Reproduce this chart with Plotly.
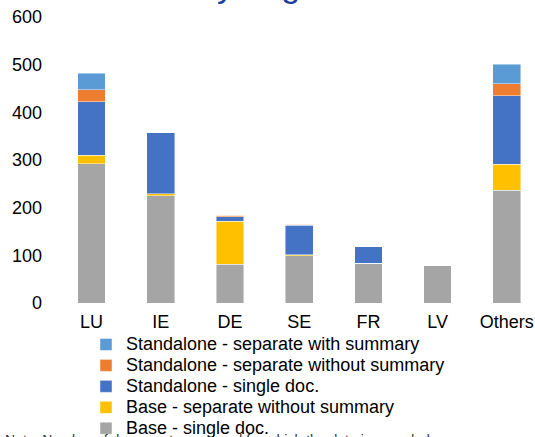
import plotly.graph_objects as go

categories = ["LU", "IE", "DE", "SE", "FR", "LV", "Others"]

base_single = [292, 225, 81, 99, 83, 78, 237]
base_sep_wo = [18, 4, 90, 2, 0, 0, 54]
sa_single = [112, 128, 10, 62, 35, 0, 144]
sa_sep_wo = [25, 0, 3, 2, 0, 0, 25]
sa_sep_with = [35, 0, 0, 0, 0, 0, 41]

series_names = [
    "Base - single doc.",
    "Base - separate without summary",
    "Standalone - single doc.",
    "Standalone - separate without summary",
    "Standalone - separate with summary",
]
series_values = [base_single, base_sep_wo, sa_single, sa_sep_wo, sa_sep_with]
series_colors = ["#A5A5A5", "#FFC000", "#4472C4", "#ED7D31", "#5B9BD5"]

y_ticks = [0, 100, 200, 300, 400, 500, 600]

fig = go.Figure()
for name, vals, col in zip(series_names, series_values, series_colors):
    fig.add_trace(go.Bar(
        x=categories, y=vals, name='<span style="font-size:18px">' + name + '</span>',
        marker=dict(color=col, line=dict(color="rgba(255,255,255,0.6)", width=0.75)),
    ))

W, H = 535, 437
top, bottom_px, left = 16.5, 303.5, 57
pw = W - left

fig.update_layout(
    width=W, height=H,
    barmode="stack", bargap=0.6,
    plot_bgcolor="white", paper_bgcolor="white",
    margin=dict(l=left, r=0, t=top, b=H - bottom_px, pad=0, autoexpand=False),
    font=dict(family="Liberation Sans, Arial, sans-serif", size=18, color="#000000"),
    showlegend=True,
    legend=dict(
        traceorder="reversed",
        font=dict(size=13.8, color="#000000"),
        xref="container", yref="container",
        x=86 / W, y=1 - 329 / H, xanchor="left", yanchor="top",
        itemwidth=30, bgcolor="rgba(0,0,0,0)",
    ),
    xaxis=dict(
        range=[-0.5, 6.407], showgrid=False, showline=False, ticks="",
        tickfont=dict(size=18), fixedrange=True, automargin=False,
        ticklabelstandoff=6,
    ),
    yaxis=dict(
        range=[0, 600], tickvals=y_ticks, showgrid=False, showline=False,
        ticks="", zeroline=False, tickfont=dict(size=18), fixedrange=True,
        ticklabelstandoff=14, automargin=False,
    ),
)

fig.add_annotation(
    text="by origin", xref="paper", yref="paper", x=(196 - left) / pw, y=1,
    xanchor="left", yanchor="bottom", yshift=top - 5, showarrow=False,
    font=dict(size=34, color="#1F3F9F"),
)
fig.add_annotation(
    text="Note: Number of documents approved for which the data is recorded.",
    xref="paper", yref="paper", x=(3 - left) / pw, y=0, xanchor="left", yanchor="top",
    yshift=-(433 - bottom_px) + 2.5, showarrow=False,
    font=dict(size=14, color="#333333"),
)

fig.write_html("out.html", config={"displayModeBar": False},
               post_script="document.body.style.margin='0';")
